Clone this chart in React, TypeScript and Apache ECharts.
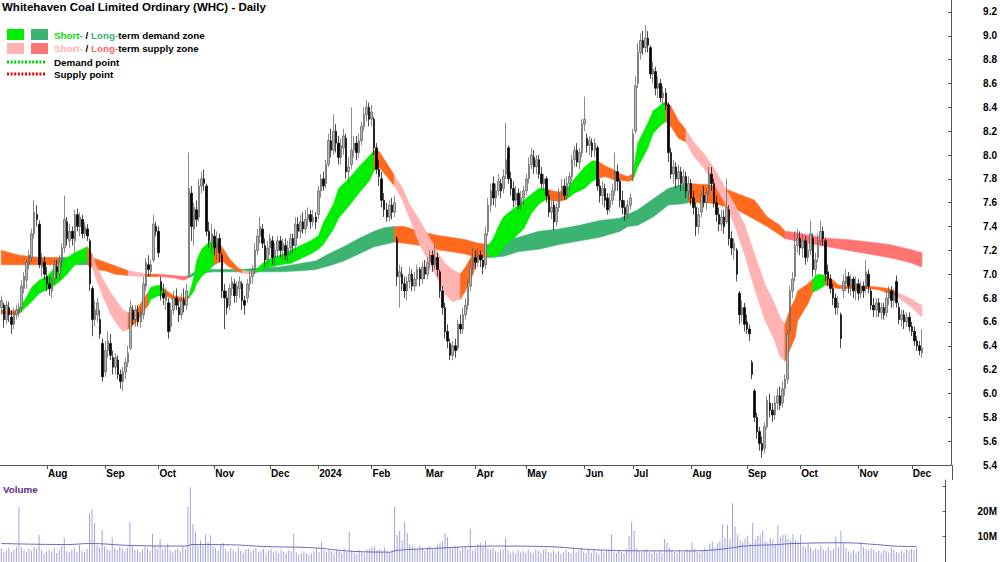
import React, { useEffect, useRef } from "react";
import * as echarts from "echarts";

// ---------- DATA ----------
const START_DATE = "2023-07-06";
const SLOTS = 375;
const HOLIDAYS = ["2023-12-25", "2023-12-26", "2024-01-01", "2024-01-26", "2024-03-29", "2024-04-01", "2024-04-25", "2024-06-10"];
const MONTHS = ["Jan", "Feb", "Mar", "Apr", "May", "Jun", "Jul", "Aug", "Sep", "Oct", "Nov", "Dec"];
const PRICE_TICKS = { min: 5.4, max: 9.3, step: 0.2 };
const VOLUME_TICKS = ["10M", "20M"];

// [open, high, low, close]
const candles: number[][] = [
[6.72,6.82,6.66,6.78],[6.74,6.76,6.55,6.62],[6.62,6.78,6.58,6.74],[6.72,6.77,6.60,6.66],[6.64,6.70,6.50,6.58],
[6.58,6.72,6.54,6.68],[6.66,6.74,6.62,6.70],[6.68,6.76,6.64,6.72],[6.72,6.95,6.68,6.90],[6.88,7.02,6.84,6.98],
[6.95,7.12,6.88,7.10],[7.08,7.20,7.04,7.16],[7.14,7.38,7.10,7.34],[7.34,7.62,7.30,7.52],[7.50,7.58,7.40,7.46],
[7.42,7.45,7.05,7.08],[7.06,7.18,6.98,7.12],[7.10,7.15,6.95,7.00],[6.98,7.06,6.86,6.92],[6.92,6.98,6.82,6.88],
[6.86,6.98,6.80,6.95],[6.96,7.12,6.92,7.08],[7.06,7.12,6.96,7.02],[7.00,7.16,6.95,7.10],[7.10,7.26,7.06,7.22],
[7.22,7.66,7.18,7.46],[7.44,7.48,7.24,7.30],[7.28,7.42,7.22,7.36],[7.36,7.40,7.24,7.30],[7.28,7.54,7.18,7.50],
[7.50,7.55,7.36,7.40],[7.40,7.52,7.32,7.48],[7.46,7.50,7.30,7.34],[7.34,7.44,7.30,7.40],[7.38,7.42,7.28,7.32],
[7.28,7.30,6.86,6.92],[6.88,6.90,6.48,6.62],[6.62,6.78,6.56,6.70],[6.66,6.80,6.60,6.76],[6.62,6.70,6.46,6.50],
[6.42,6.46,6.10,6.14],[6.18,6.44,6.14,6.36],[6.36,6.52,6.30,6.44],[6.42,6.50,6.28,6.32],[6.30,6.36,6.16,6.22],
[6.22,6.34,6.16,6.30],[6.28,6.32,6.12,6.16],[6.16,6.20,6.04,6.10],[6.10,6.22,6.02,6.18],[6.18,6.30,6.12,6.26],
[6.26,6.40,6.22,6.34],[6.38,6.78,6.36,6.72],[6.70,6.74,6.58,6.62],[6.62,6.74,6.56,6.70],[6.68,6.74,6.56,6.60],
[6.60,6.72,6.55,6.68],[6.66,6.98,6.62,6.92],[6.90,7.14,6.86,7.10],[7.08,7.16,6.98,7.04],[7.02,7.12,6.98,7.08],
[7.12,7.50,7.10,7.42],[7.40,7.44,7.32,7.36],[7.36,7.40,7.14,7.18],[6.94,6.98,6.78,6.86],[6.84,6.92,6.74,6.80],
[6.78,6.88,6.70,6.84],[6.76,6.80,6.46,6.52],[6.56,6.76,6.52,6.70],[6.70,6.86,6.66,6.80],[6.80,6.88,6.70,6.74],
[6.72,6.78,6.60,6.66],[6.66,6.84,6.62,6.78],[6.78,6.88,6.68,6.74],[6.74,6.92,6.70,6.86],[7.00,8.02,6.98,7.72],
[7.68,7.74,7.28,7.40],[7.38,7.60,7.24,7.56],[7.54,7.62,7.40,7.46],[7.48,7.80,7.44,7.74],[7.74,7.86,7.68,7.80],
[7.80,7.88,7.70,7.76],[7.74,7.76,7.32,7.36],[7.36,7.44,7.22,7.28],[7.28,7.42,7.18,7.34],[7.32,7.38,7.16,7.22],
[7.22,7.36,7.12,7.30],[7.30,7.34,7.10,7.18],[7.16,7.18,6.80,6.86],[6.86,6.92,6.54,6.80],[6.80,6.86,6.66,6.72],
[6.74,6.92,6.70,6.88],[6.88,6.98,6.82,6.94],[6.92,6.96,6.76,6.82],[6.82,6.94,6.76,6.90],[6.88,6.98,6.80,6.94],
[6.92,6.94,6.70,6.78],[6.78,6.82,6.66,6.74],[6.80,6.96,6.76,6.92],[6.92,7.02,6.86,6.98],[6.98,7.08,6.92,7.04],
[7.04,7.26,7.00,7.20],[7.20,7.38,7.16,7.32],[7.32,7.48,7.26,7.40],[7.38,7.42,7.22,7.26],[7.24,7.30,7.06,7.12],
[7.12,7.28,7.08,7.22],[7.22,7.34,7.16,7.30],[7.28,7.32,7.08,7.14],[7.14,7.26,7.06,7.20],[7.20,7.32,7.14,7.28],
[7.28,7.32,7.14,7.20],[7.20,7.30,7.12,7.26],[7.24,7.30,7.12,7.16],[7.16,7.28,7.10,7.22],[7.22,7.34,7.16,7.30],
[7.30,7.34,7.18,7.24],[7.24,7.48,7.20,7.42],[7.42,7.48,7.30,7.36],[7.36,7.50,7.30,7.44],[7.44,7.52,7.34,7.38],
[7.38,7.54,7.34,7.46],[7.46,7.56,7.40,7.50],[7.50,7.54,7.38,7.44],[7.44,7.54,7.40,7.48],[7.48,7.52,7.38,7.44],
[7.50,7.74,7.46,7.70],[7.70,7.84,7.64,7.80],[7.80,7.86,7.70,7.74],[7.76,7.96,7.72,7.92],[7.92,8.18,7.90,8.12],
[8.12,8.22,7.98,8.04],[8.04,8.34,8.00,8.20],[8.20,8.26,8.02,8.10],[8.10,8.16,7.92,7.98],[7.98,8.14,7.92,8.08],
[8.06,8.22,8.00,8.16],[8.14,8.18,7.80,7.86],[7.86,7.98,7.76,7.90],[7.92,8.40,7.88,8.04],[8.04,8.16,7.98,8.10],
[8.10,8.16,7.96,8.02],[8.02,8.18,7.98,8.12],[8.12,8.28,8.08,8.24],[8.24,8.40,8.20,8.34],[8.34,8.46,8.28,8.40],
[8.40,8.44,8.24,8.30],[8.30,8.42,8.24,8.36],[8.30,8.32,8.00,8.06],[8.06,8.10,7.84,7.88],[7.88,7.96,7.74,7.82],
[7.80,7.86,7.56,7.62],[7.62,7.68,7.48,7.54],[7.54,7.60,7.44,7.48],[7.48,7.62,7.44,7.58],[7.58,7.64,7.46,7.52],
[7.52,7.66,7.48,7.60],[7.30,7.32,6.90,6.98],[6.98,7.08,6.72,7.02],[7.00,7.06,6.86,6.92],[6.92,6.98,6.80,6.86],
[6.86,6.98,6.78,6.94],[6.94,7.06,6.88,7.00],[7.00,7.04,6.86,6.90],[6.90,7.02,6.86,6.96],[6.96,7.08,6.90,7.04],
[7.04,7.06,6.90,6.96],[6.96,7.10,6.92,7.06],[7.06,7.12,6.96,7.00],[7.00,7.14,6.96,7.10],[7.10,7.20,7.04,7.16],
[7.16,7.20,7.02,7.08],[7.08,7.24,7.04,7.14],[7.14,7.18,6.98,7.04],[7.02,7.04,6.80,6.86],[6.86,6.90,6.66,6.72],
[6.72,6.76,6.46,6.52],[6.52,6.58,6.38,6.44],[6.42,6.46,6.28,6.32],[6.32,6.44,6.28,6.40],[6.40,6.46,6.30,6.36],
[6.38,6.62,6.36,6.58],[6.58,6.66,6.50,6.54],[6.54,6.72,6.50,6.66],[6.66,6.80,6.62,6.74],[6.74,6.96,6.70,6.90],
[6.90,7.12,6.86,7.06],[7.06,7.22,7.00,7.14],[7.14,7.20,7.04,7.10],[7.10,7.22,7.06,7.16],[7.16,7.20,7.06,7.12],
[7.12,7.16,7.00,7.06],[7.08,7.40,7.04,7.34],[7.36,7.64,7.32,7.58],[7.58,7.76,7.52,7.70],[7.76,7.82,7.58,7.64],
[7.64,7.76,7.56,7.70],[7.70,7.84,7.66,7.78],[7.76,7.80,7.64,7.70],[7.72,7.88,7.68,7.82],[7.84,8.27,7.80,7.96],
[8.06,8.08,7.76,7.80],[7.80,7.86,7.66,7.72],[7.72,7.78,7.56,7.62],[7.62,7.74,7.58,7.68],[7.68,7.72,7.54,7.58],
[7.58,7.70,7.54,7.64],[7.64,7.74,7.58,7.70],[7.70,7.84,7.66,7.80],[7.80,7.98,7.76,7.92],[7.92,8.06,7.88,8.00],
[7.98,8.04,7.84,7.90],[7.90,8.00,7.84,7.96],[7.96,8.00,7.80,7.84],[7.84,7.90,7.72,7.76],[7.76,7.84,7.70,7.80],
[7.80,7.82,7.60,7.66],[7.66,7.70,7.48,7.52],[7.52,7.62,7.46,7.56],[7.58,7.62,7.37,7.44],[7.44,7.60,7.40,7.56],
[7.56,7.72,7.52,7.68],[7.68,7.80,7.62,7.74],[7.74,7.80,7.62,7.66],[7.66,7.82,7.62,7.76],[7.76,7.86,7.70,7.82],
[7.82,8.00,7.78,7.96],[7.96,8.08,7.90,8.04],[8.04,8.10,7.90,7.94],[7.94,8.06,7.88,8.02],[8.02,8.30,7.98,8.26],
[8.26,8.49,8.20,8.30],[8.14,8.18,8.02,8.08],[8.08,8.16,8.00,8.12],[8.10,8.14,7.98,8.04],[8.04,8.14,7.98,8.10],
[8.06,8.08,7.70,7.74],[7.74,7.80,7.60,7.66],[7.66,7.78,7.58,7.72],[7.72,7.76,7.56,7.62],[7.64,7.68,7.50,7.54],
[7.56,7.68,7.52,7.62],[7.62,7.76,7.58,7.70],[7.70,8.02,7.66,7.86],[7.86,7.92,7.70,7.78],[7.78,7.80,7.56,7.62],
[7.62,7.70,7.50,7.56],[7.56,7.62,7.45,7.50],[7.50,7.62,7.46,7.58],[7.58,7.68,7.54,7.64],[7.82,8.22,7.78,8.18],
[8.20,8.66,8.18,8.58],[8.60,8.94,8.56,8.86],[8.86,9.02,8.80,8.96],[8.96,9.04,8.84,8.90],[8.90,9.09,8.86,8.98],
[8.98,9.04,8.86,8.92],[8.90,8.92,8.64,8.68],[8.68,8.78,8.60,8.72],[8.70,8.74,8.50,8.56],[8.56,8.66,8.48,8.60],
[8.60,8.64,8.44,8.48],[8.48,8.58,8.42,8.52],[8.52,8.56,8.38,8.42],[8.42,8.44,7.94,8.02],[8.02,8.06,7.80,7.84],
[7.84,7.96,7.76,7.90],[7.90,7.94,7.72,7.80],[7.80,7.92,7.74,7.86],[7.86,7.90,7.70,7.76],[7.76,7.88,7.70,7.82],
[7.82,7.86,7.64,7.70],[7.70,7.82,7.62,7.76],[7.76,7.80,7.58,7.64],[7.64,7.70,7.50,7.56],[7.56,7.60,7.32,7.40],
[7.40,7.56,7.34,7.50],[7.52,7.70,7.48,7.66],[7.66,7.74,7.56,7.60],[7.60,7.72,7.54,7.68],[7.70,7.90,7.66,7.84],
[7.84,7.90,7.70,7.76],[7.76,7.80,7.56,7.60],[7.60,7.66,7.44,7.50],[7.50,7.56,7.36,7.42],[7.42,7.54,7.36,7.48],
[7.48,7.54,7.34,7.40],[7.44,7.80,7.42,7.56],[7.54,7.58,7.24,7.30],[7.30,7.36,7.16,7.22],[7.20,7.30,7.12,7.26],
[7.20,7.22,6.94,7.00],[6.84,6.86,6.58,6.66],[6.66,6.78,6.60,6.72],[6.72,6.76,6.52,6.58],[6.60,6.66,6.50,6.54],
[6.54,6.58,6.44,6.50],[6.26,6.28,6.12,6.16],[6.02,6.04,5.76,5.80],[5.80,5.84,5.62,5.68],[5.68,5.72,5.52,5.58],
[5.58,5.64,5.46,5.52],[5.54,5.76,5.50,5.72],[5.72,5.98,5.70,5.94],[5.92,6.00,5.80,5.86],[5.86,5.92,5.76,5.82],
[5.82,5.98,5.78,5.92],[5.92,6.04,5.86,5.98],[5.98,6.06,5.86,5.90],[5.92,6.10,5.88,6.04],[6.04,6.16,5.98,6.12],
[6.12,6.54,6.08,6.50],[6.52,6.90,6.50,6.86],[6.86,7.02,6.80,6.96],[6.98,7.36,6.94,7.24],[7.24,7.38,7.18,7.30],
[7.30,7.36,7.16,7.22],[7.22,7.34,7.14,7.28],[7.28,7.32,7.08,7.14],[7.14,7.26,7.10,7.20],[7.20,7.45,7.16,7.34],
[7.30,7.34,6.98,7.04],[7.04,7.18,6.98,7.12],[7.14,7.34,7.10,7.28],[7.28,7.45,7.24,7.36],[7.36,7.40,7.24,7.30],
[7.28,7.30,6.94,7.00],[7.02,7.08,6.90,6.96],[6.96,7.00,6.84,6.88],[6.88,6.92,6.74,6.80],[6.80,6.84,6.66,6.72],
[6.72,6.82,6.66,6.76],[6.66,6.68,6.38,6.46],[6.86,7.00,6.80,6.94],[6.92,7.04,6.86,6.98],[6.98,7.02,6.84,6.90],
[6.90,7.00,6.82,6.96],[6.96,6.98,6.80,6.86],[6.86,6.98,6.78,6.92],[6.92,6.96,6.78,6.84],[6.84,6.94,6.80,6.90],
[6.90,6.94,6.80,6.86],[6.88,7.12,6.84,7.02],[7.00,7.04,6.84,6.90],[6.86,6.88,6.70,6.74],[6.74,6.80,6.64,6.70],
[6.70,6.80,6.64,6.76],[6.76,6.80,6.64,6.68],[6.68,6.76,6.62,6.72],[6.72,6.76,6.62,6.66],[6.68,6.86,6.64,6.80],
[6.80,6.90,6.74,6.86],[6.86,6.90,6.72,6.78],[6.78,6.88,6.72,6.84],[6.94,6.99,6.72,6.76],[6.72,6.76,6.58,6.62],
[6.62,6.70,6.56,6.66],[6.66,6.70,6.54,6.60],[6.60,6.68,6.56,6.64],[6.64,6.68,6.52,6.56],[6.56,6.60,6.48,6.52],
[6.52,6.56,6.40,6.44],[6.44,6.48,6.36,6.40],[6.40,6.44,6.32,6.36],[6.34,6.54,6.30,6.38]
];

// daily volume, millions
const volumes: number[] = [
5.2,3.8,4.5,5.6,4.0,4.8,6.2,21.7,5.8,4.6,3.9,5.1,4.4,6.0,5.3,10.8,4.7,3.6,4.2,5.0,
4.1,5.5,3.7,4.6,6.4,9.6,4.2,3.8,4.9,5.7,4.0,6.8,4.5,3.9,5.2,19.0,20.8,15.4,6.6,5.8,
12.7,6.2,5.0,4.4,9.6,5.6,4.8,6.0,5.2,4.1,5.5,15.8,6.4,4.6,5.0,3.8,4.9,6.1,5.4,4.3,
11.2,6.2,5.0,9.2,4.8,5.6,7.4,4.5,3.9,4.7,5.3,4.2,6.0,5.1,21.7,29.5,15.0,12.0,7.2,8.6,
6.4,10.8,7.8,10.6,6.2,5.5,4.6,6.8,7.6,5.0,4.2,5.4,4.8,3.9,5.8,4.4,3.6,4.9,5.2,4.1,
4.7,5.6,3.8,4.3,5.1,3.7,4.5,5.0,3.9,4.4,3.5,4.8,4.0,3.6,4.6,4.2,11.2,3.8,2.9,3.5,
4.1,3.6,2.8,3.3,4.5,5.2,4.0,7.8,4.6,3.9,5.0,4.2,3.7,4.8,4.3,3.6,5.4,4.0,12.0,4.4,
3.8,3.3,4.6,4.0,3.5,4.9,5.3,5.8,6.2,4.7,5.1,4.4,5.6,4.2,3.9,4.6,21.7,10.8,12.3,8.4,
15.8,11.5,7.0,6.2,5.6,4.8,6.6,5.2,4.4,5.8,6.4,4.9,5.4,6.8,7.4,8.2,11.5,9.9,6.0,5.2,
6.4,5.8,4.6,5.4,6.0,5.0,13.0,4.6,5.2,7.0,7.6,6.2,8.6,5.4,4.8,5.6,4.2,3.8,4.6,5.0,
9.6,4.8,3.6,4.2,3.4,4.6,3.8,4.4,3.5,4.9,4.0,3.6,5.0,4.3,3.7,4.6,5.2,4.0,3.8,4.5,
3.6,4.2,3.4,3.9,4.7,4.0,3.5,5.2,3.8,4.4,5.6,4.1,3.6,4.8,3.7,4.5,3.9,3.2,4.6,3.8,
4.3,5.0,10.8,4.2,3.6,4.6,4.0,3.5,5.2,10.4,15.8,12.3,5.4,4.4,3.8,4.6,5.0,3.9,3.5,4.2,
3.7,4.4,3.6,9.2,7.7,5.6,4.8,4.0,3.7,4.5,3.9,4.2,5.0,4.4,7.7,5.2,4.0,3.6,4.6,5.4,
4.8,7.2,8.0,5.6,7.4,8.2,15.0,9.6,14.7,9.0,23.2,14.0,10.8,8.6,7.8,9.2,10.4,7.4,15.4,9.0,
10.4,10.8,12.3,8.2,7.6,9.4,8.8,7.2,14.5,9.8,10.8,10.8,9.2,8.4,11.0,8.6,7.8,10.8,6.4,5.6,
7.2,5.8,4.6,5.4,4.8,6.6,5.0,4.4,5.8,4.6,5.2,9.9,6.0,12.3,7.8,5.4,4.2,3.8,4.6,3.6,
4.2,7.7,5.8,5.2,4.6,5.4,4.8,3.9,4.4,3.6,5.0,4.4,3.8,5.6,4.6,4.0,3.7,4.4,3.8,4.8,4.2,5.0,4.6,5.4
];

// volume moving-average line, read at sample bars (millions)
const volAvgIdx = [0,26,35,52,73,76,91,105,124,138,154,157,170,196,216,236,255,275,286,295,308,314,334,347,354,363];
const volAvgVal = [7.3,6.9,7.3,6.5,6.3,6.9,6.8,6.1,5.6,4.3,3.9,4.6,5.3,6.3,6.1,4.8,4.4,4.4,5.1,6.3,6.9,7.3,7.6,6.9,6.3,6.1];

// short-term zone: sample bar, upper, lower, colour of following segment
const stIdx = [0,5,7,10,12,15,18,20,23,26,29,32,34,36,37,40,43,46,48,50,52,54,56,58,59,62,64,66,68,72,74,76,77,79,82,84,87,90,93,95,98,100,103,106,110,114,118,122,125,127,131,133,137,141,145,147,149,152,155,158,161,165,169,173,175,178,181,183,186,188,191,194,196,198,202,206,209,212,215,217,220,223,226,230,233,235,238,242,244,247,249,251,255,257,260,262,264,267,270,273,277,281,285,289,293,297,301,305,307,309,311,313,314,318,320,322,325,328,330,333,338,342,346,350,353,356,359,361,363];
const stUp = [6.70,6.69,6.71,6.81,6.89,6.95,6.98,7.03,7.09,7.14,7.18,7.21,7.23,7.16,7.09,6.96,6.85,6.76,6.70,6.68,6.68,6.72,6.79,6.85,6.89,6.91,6.88,6.85,6.82,6.80,6.82,6.98,7.11,7.21,7.27,7.28,7.23,7.13,7.06,7.03,7.02,7.03,7.09,7.13,7.16,7.20,7.24,7.28,7.32,7.43,7.59,7.72,7.80,7.90,7.99,8.04,8.03,7.93,7.83,7.73,7.59,7.45,7.30,7.15,7.09,7.04,7.00,7.06,7.17,7.21,7.21,7.30,7.40,7.48,7.55,7.62,7.67,7.72,7.72,7.70,7.69,7.72,7.80,7.90,7.95,7.95,7.91,7.87,7.84,7.82,7.84,8.10,8.27,8.37,8.42,8.45,8.41,8.29,8.21,8.11,8.01,7.89,7.74,7.59,7.42,7.17,6.92,6.75,6.64,6.58,6.71,6.79,6.86,6.92,6.96,7.00,6.99,6.95,6.91,6.90,6.90,6.90,6.89,6.88,6.85,6.82,6.79,6.76,6.74];
const stLo = [6.67,6.66,6.67,6.73,6.77,6.84,6.87,6.89,6.94,7.00,7.08,7.10,7.11,7.06,6.98,6.82,6.67,6.57,6.52,6.54,6.57,6.62,6.69,6.74,6.79,6.82,6.82,6.81,6.78,6.77,6.80,6.86,6.92,6.98,7.04,7.08,7.11,7.06,7.03,7.01,7.00,7.01,7.04,7.06,7.08,7.09,7.13,7.17,7.21,7.25,7.38,7.47,7.57,7.68,7.78,7.87,7.90,7.82,7.74,7.63,7.47,7.25,7.09,6.92,6.83,6.77,6.79,6.86,7.00,7.16,7.18,7.14,7.16,7.23,7.30,7.38,7.51,7.59,7.63,7.62,7.61,7.63,7.68,7.72,7.78,7.80,7.82,7.79,7.79,7.78,7.79,7.90,8.06,8.18,8.25,8.28,8.24,8.14,8.11,7.99,7.89,7.76,7.61,7.42,7.17,6.88,6.62,6.44,6.31,6.27,6.37,6.47,6.61,6.75,6.85,6.87,6.91,6.89,6.88,6.88,6.88,6.88,6.87,6.84,6.82,6.77,6.72,6.68,6.64];
const stCol = ["O","O","G","G","G","G","G","G","G","G","G","G","O","P","P","P","P","P","P","O","O","O","O","G","G","G","O","O","O","O","G","G","G","G","G","O","O","O","O","P","P","G","G","G","G","G","G","G","G","G","G","G","G","G","G","O","O","O","P","P","P","P","P","P","P","P","O","O","O","O","G","G","G","G","G","G","G","G","O","O","O","G","G","G","G","O","O","O","O","O","G","G","G","G","G","O","O","O","P","P","P","P","P","P","P","P","P","P","P","O","O","O","O","O","G","G","O","O","O","O","O","O","O","O","P","P","P","P","P"];

// long-term zone
const ltIdx = [0,7,15,23,29,34,37,41,45,50,55,57,62,68,72,74,78,84,94,102,110,118,124,129,135,141,147,151,155,159,165,171,177,183,188,192,198,204,212,220,228,236,244,247,251,257,263,268,271,279,285,291,297,302,307,309,313,318,326,334,342,350,358,363];
const ltUp = [7.20,7.16,7.14,7.14,7.14,7.15,7.13,7.10,7.07,7.03,7.01,7.00,7.00,6.99,6.98,6.99,7.04,7.04,7.04,7.05,7.06,7.09,7.11,7.17,7.23,7.30,7.36,7.39,7.40,7.40,7.36,7.33,7.31,7.29,7.26,7.25,7.28,7.31,7.36,7.38,7.41,7.45,7.47,7.50,7.54,7.63,7.72,7.75,7.76,7.75,7.72,7.67,7.62,7.48,7.41,7.36,7.35,7.33,7.30,7.29,7.27,7.25,7.21,7.18];
const ltLo = [7.08,7.08,7.08,7.08,7.08,7.08,7.04,7.03,7.00,6.99,6.98,6.98,6.98,6.97,6.95,6.97,7.01,7.02,7.02,7.02,7.02,7.03,7.04,7.07,7.11,7.17,7.23,7.25,7.27,7.26,7.24,7.21,7.19,7.17,7.14,7.14,7.15,7.19,7.21,7.25,7.28,7.31,7.36,7.40,7.41,7.48,7.58,7.59,7.60,7.60,7.57,7.53,7.46,7.40,7.33,7.30,7.28,7.26,7.23,7.20,7.17,7.14,7.10,7.06];
const ltCol = ["O","O","O","SG","SG","O","O","O","O","P","P","O","S","S","S","SG","SG","SG","SG","SG","SG","SG","SG","SG","SG","SG","SG","SG","O","O","O","O","O","O","O","SG","SG","SG","SG","SG","SG","SG","SG","SG","SG","SG","SG","SG","O","O","O","O","O","O","O","S","S","S","S","S","S","S","S","S"];

// ---------- STYLE ----------
const ZONE_COLORS: Record<string, string> = {
  G: "#00ee00",
  SG: "#3cb371",
  O: "#ff6a1f",
  P: "#ffb3b3",
  S: "#ff7373",
};
const FONT = "'Liberation Sans', Arial, sans-serif";

function tradingDays(start: string, n: number): string[] {
  const out: string[] = [];
  const d = new Date(start + "T00:00:00Z");
  while (out.length < n) {
    const wd = d.getUTCDay();
    const s = d.toISOString().slice(0, 10);
    if (wd !== 0 && wd !== 6 && !HOLIDAYS.includes(s)) out.push(s);
    d.setUTCDate(d.getUTCDate() + 1);
  }
  return out;
}

function buildSegs(cols: string[]) {
  const segs: { a: number; b: number; c: string }[] = [];
  let a = 0;
  for (let k = 1; k < cols.length; k++) {
    if (cols[k] !== cols[a] || k === cols.length - 1) {
      segs.push({ a, b: k, c: cols[a] });
      a = k;
    }
  }
  return segs;
}

function zoneSeries(idx: number[], up: number[], lo: number[], cols: string[], z: number) {
  const segs = buildSegs(cols);
  return {
    type: "custom",
    xAxisIndex: 0,
    yAxisIndex: 0,
    silent: true,
    z,
    clip: true,
    data: segs.map((s) => [idx[s.a], up[s.a]]),
    renderItem: (params: any, api: any) => {
      const s = segs[params.dataIndex];
      const pts: number[][] = [];
      for (let k = s.a; k <= s.b; k++) pts.push(api.coord([idx[k], up[k]]));
      for (let k = s.b; k >= s.a; k--) pts.push(api.coord([idx[k], lo[k]]));
      const col = ZONE_COLORS[s.c];
      return {
        type: "polygon",
        shape: { points: pts },
        style: { fill: col, stroke: col, lineWidth: 0.6 },
      };
    },
  };
}

export default function App() {
  const ref = useRef<HTMLDivElement>(null);

  useEffect(() => {
    if (!ref.current) return;
    const chart = echarts.init(ref.current, undefined, { renderer: "svg" });
    const dates = tradingDays(START_DATE, SLOTS);
    const isMonthStart = (i: number) =>
      i > 0 && dates[i].slice(0, 7) !== dates[i - 1].slice(0, 7);
    const monthLabel = (v: string) => {
      const m = parseInt(v.slice(5, 7), 10) - 1;
      return m === 0 ? v.slice(0, 4) : MONTHS[m];
    };
    const isStep = (v: number) => Math.abs(v / PRICE_TICKS.step - Math.round(v / PRICE_TICKS.step)) < 1e-6;

    const labelFont = { fontFamily: FONT, fontWeight: "bold" as const, fontSize: 10, color: "#000" };
    const txt = { fontFamily: FONT, fontWeight: "bold", fontSize: 9.8 };

    const option: any = {
      animation: false,
      backgroundColor: "#ffffff",
      grid: [
        { left: 0, top: 0, width: 952, height: 465 },
        { left: 0, top: 480, width: 952, height: 82 },
      ],
      xAxis: [
        {
          type: "category",
          gridIndex: 0,
          data: dates,
          boundaryGap: true,
          axisLine: { show: true, lineStyle: { color: "#555", width: 1 } },
          axisTick: {
            show: true,
            alignWithLabel: true,
            interval: (i: number) => isMonthStart(i),
            length: 4,
            lineStyle: { color: "#555" },
          },
          axisLabel: {
            ...labelFont,
            interval: (i: number) => isMonthStart(i),
            formatter: (v: string) => monthLabel(v),
            align: "left",
            margin: 3,
            padding: [0, 0, 0, 1],
          },
          splitLine: { show: false },
        },
        {
          type: "category",
          gridIndex: 1,
          data: dates,
          position: "top",
          boundaryGap: true,
          axisLine: { show: true, lineStyle: { color: "#555", width: 1 } },
          axisTick: { show: false },
          axisLabel: { show: false },
          splitLine: { show: false },
        },
      ],
      yAxis: [
        {
          type: "value",
          gridIndex: 0,
          position: "right",
          min: PRICE_TICKS.min,
          max: PRICE_TICKS.max,
          interval: PRICE_TICKS.step,
          axisLine: { show: true, lineStyle: { color: "#555", width: 1 } },
          axisTick: { show: true, inside: true, length: 3, lineStyle: { color: "#555" } },
          axisLabel: {
            ...labelFont,
            margin: 32,
            showMaxLabel: false,
            formatter: (v: number) => (isStep(v) ? v.toFixed(1) : ""),
          },
          splitLine: { show: false },
        },
        {
          type: "value",
          gridIndex: 1,
          position: "right",
          min: 0,
          max: 32.4e6,
          interval: 10e6,
          axisLine: { show: true, lineStyle: { color: "#555", width: 1 } },
          axisTick: { show: true, inside: true, length: 3, lineStyle: { color: "#555" } },
          axisLabel: {
            ...labelFont,
            margin: 32,
            showMaxLabel: false,
            formatter: (v: number) => {
              const lab = Math.round(v / 1e6) + "M";
              return VOLUME_TICKS.includes(lab) ? lab : "";
            },
          },
          splitLine: { show: false },
        },
      ],
      series: [
        zoneSeries(ltIdx, ltUp, ltLo, ltCol, 1),
        zoneSeries(stIdx, stUp, stLo, stCol, 2),
        {
          type: "candlestick",
          xAxisIndex: 0,
          yAxisIndex: 0,
          z: 5,
          silent: true,
          barWidth: 2,
          data: candles.map(([o, h, l, c]) => [o, c, l, h]),
          itemStyle: {
            color: "#b4b4b4",
            color0: "#000000",
            borderColor: "#5c5c5c",
            borderColor0: "#000000",
            borderWidth: 0.7,
          },
        },
        {
          type: "bar",
          xAxisIndex: 1,
          yAxisIndex: 1,
          silent: true,
          barWidth: 1,
          data: volumes.map((v) => v * 1e6),
          itemStyle: { color: "#a2a2de" },
        },
        {
          type: "line",
          xAxisIndex: 1,
          yAxisIndex: 1,
          silent: true,
          smooth: 0.4,
          symbol: "none",
          data: volAvgIdx.map((x, k) => [x, volAvgVal[k] * 1e6]),
          lineStyle: { color: "#6a6ac4", width: 1 },
          z: 4,
        },
      ],
      graphic: [
        {
          type: "line",
          shape: { x1: 952.5, y1: 465, x2: 952.5, y2: 480 },
          style: { stroke: "#555", lineWidth: 1 },
        },
        {
          type: "text",
          x: 2,
          y: 7,
          style: { text: "Whitehaven Coal Limited Ordinary (WHC) - Daily", ...txt, fontSize: 11.5, fill: "#000", verticalAlign: "middle" },
        },
        { type: "rect", shape: { x: 7, y: 29, width: 17, height: 11 }, style: { fill: "#00ee00" } },
        { type: "rect", shape: { x: 31, y: 29, width: 17, height: 11 }, style: { fill: "#3cb371" } },
        { type: "rect", shape: { x: 7, y: 43, width: 17, height: 11 }, style: { fill: "#ffb3b3" } },
        { type: "rect", shape: { x: 31, y: 43, width: 17, height: 11 }, style: { fill: "#ff7373" } },
        {
          type: "line",
          shape: { x1: 7, y1: 62, x2: 45, y2: 62 },
          style: { stroke: "#00cc00", lineWidth: 3, lineDash: [2, 1.6] },
        },
        {
          type: "line",
          shape: { x1: 7, y1: 74, x2: 45, y2: 74 },
          style: { stroke: "#ee0000", lineWidth: 3, lineDash: [2, 1.6] },
        },
        {
          type: "text",
          x: 54,
          y: 35,
          style: {
            text: "{a|Short-}{k| / }{b|Long-}{k|term demand zone}",
            verticalAlign: "middle",
            rich: {
              a: { ...txt, fill: "#00e000" },
              b: { ...txt, fill: "#3cb371" },
              k: { ...txt, fill: "#000" },
            },
          },
        },
        {
          type: "text",
          x: 54,
          y: 48,
          style: {
            text: "{a|Short-}{k| / }{b|Long-}{k|term supply zone}",
            verticalAlign: "middle",
            rich: {
              a: { ...txt, fill: "#ffb0b0" },
              b: { ...txt, fill: "#ff6666" },
              k: { ...txt, fill: "#000" },
            },
          },
        },
        { type: "text", x: 54, y: 62, style: { text: "Demand point", ...txt, fill: "#000", verticalAlign: "middle" } },
        { type: "text", x: 54, y: 74, style: { text: "Supply point", ...txt, fill: "#000", verticalAlign: "middle" } },
        { type: "text", x: 3, y: 489, style: { text: "Volume", ...txt, fill: "#5b2c8f", verticalAlign: "middle" } },
      ],
    };

    chart.setOption(option);
    return () => chart.dispose();
  }, []);

  return (
    <div
      ref={ref}
      style={{ position: "absolute", left: 0, top: 0, width: 1000, height: 562, background: "#fff" }}
    />
  );
}
